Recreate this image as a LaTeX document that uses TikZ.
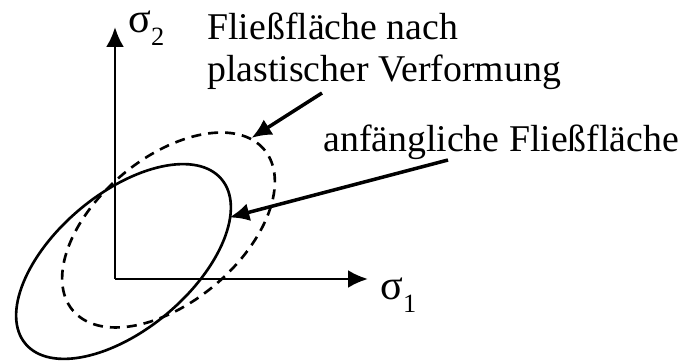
\documentclass[tikz,border=0pt]{standalone}
\usepackage{fontspec}
\setmainfont{Liberation Serif}
\usepackage{tikz}
\usetikzlibrary{arrows.meta, positioning}
\newcommand{\sig}[1]{σ\raisebox{-0.3em}{\fontsize{15}{15}\selectfont #1}}

\begin{document}
\begin{tikzpicture}[x=0.2mm, y=0.2mm, >={Latex[length=4mm,width=3.6mm]}, axis/.style={line width=1.6pt}, yield/.style={line width=1.5pt}, newyield/.style={line width=1.5pt, dash pattern=on 2mm off 1.4mm}, pointer/.style={->, line width=2pt, shorten >=-1pt}, label/.style={font=\fontsize{21.5}{23.9}\selectfont, inner sep=0pt, anchor=base west, align=left}, axlabel/.style={font=\fontsize{24}{24}\selectfont, inner sep=0pt, anchor=base west}]
\useasboundingbox (0,0) rectangle (684,360);
\coordinate (O) at (115,81);
\coordinate (X) at (368,81);
\coordinate (Y) at (115,333);
\draw [->, axis] (O) -- (X);
\draw [->, axis] (O) -- (Y);
\node [axlabel] (s1) at (380,60) {\sig{1}};
\node [axlabel] (s2) at (128,327) {\sig{2}};
% initial and shifted yield surface
\draw [yield] (123.5,98.5) ellipse [x radius=128, y radius=68, rotate=40];
\draw [newyield] (168.5,130) ellipse [x radius=125, y radius=72, rotate=40];
\node [label] (L1) at (207,278) {Fließfläche nach\\plastischer Verformung};
\node [label] (L2) at (323,208) {anfängliche Fließfläche};
\coordinate (p1) at (322,267);
\coordinate (q1) at (253,223);
\coordinate (p2) at (448,200);
\coordinate (q2) at (231,143);
\draw [pointer] (p1) -- (q1);
\draw [pointer] (p2) -- (q2);
\end{tikzpicture}
\end{document}
